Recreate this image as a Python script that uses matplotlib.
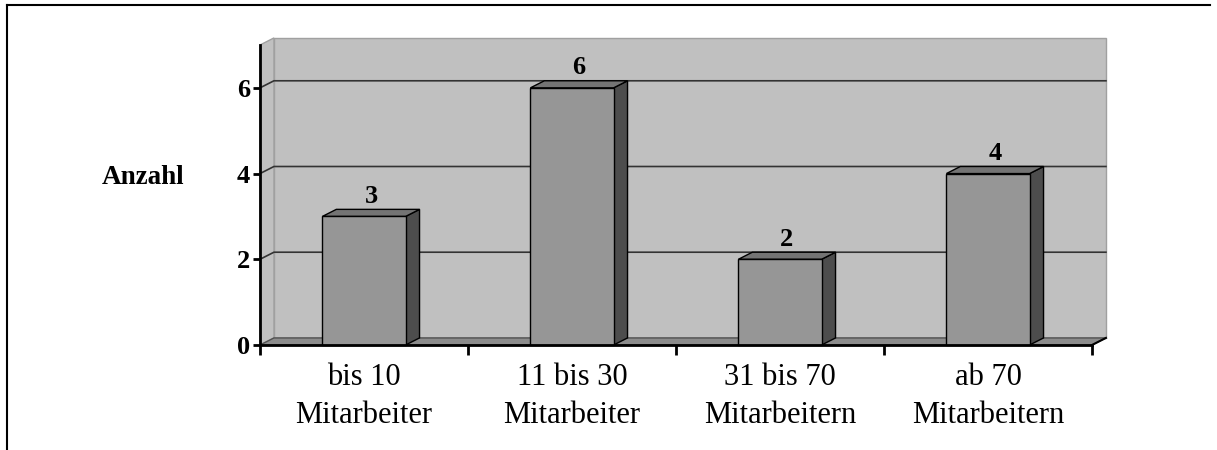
import matplotlib.pyplot as plt
from matplotlib.patches import Polygon, Rectangle

plt.rcParams['font.family'] = ['Liberation Serif', 'DejaVu Serif']

# data
categories = ['bis 10\nMitarbeiter', '11 bis 30\nMitarbeiter',
              '31 bis 70\nMitarbeitern', 'ab 70\nMitarbeitern']
counts = [3, 6, 2, 4]
yticks = [0, 2, 4, 6]

n = len(categories)
ymax = 7
# 3d depth offset in data units
dx = 0.067
dy = 0.165
bw = 0.4

fig = plt.figure(figsize=(12.17, 4.5), dpi=100)
ax = fig.add_axes([260 / 1217, 1 - 345 / 450, 832 / 1217, 300 / 450])
ax.set_xlim(0, n)
ax.set_ylim(0, ymax)

wall = '#c0c0c0'
# back wall and side wall
ax.add_patch(Polygon([(dx, dy), (n + dx, dy), (n + dx, ymax + dy), (dx, ymax + dy)],
                     closed=True, fc=wall, ec='#a0a0a0', lw=1, clip_on=False, zorder=1))
ax.add_patch(Polygon([(0, 0), (dx, dy), (dx, ymax + dy), (0, ymax)],
                     closed=True, fc=wall, ec='#a0a0a0', lw=1, clip_on=False, zorder=1))
# floor
ax.add_patch(Polygon([(0, 0), (n, 0), (n + dx, dy), (dx, dy)],
                     closed=True, fc='#8c8c8c', ec='#505050', lw=1, clip_on=False, zorder=2))
ax.plot([n, n + dx], [0, dy], color='black', lw=1.5, clip_on=False, zorder=2)

# gridlines
for v in yticks[1:]:
    ax.plot([0, dx, n + dx], [v, v + dy, v + dy], color='#333333', lw=1.2,
            clip_on=False, zorder=2)

# bars
for i, v in enumerate(counts):
    c = i + 0.5
    x0, x1 = c - bw / 2, c + bw / 2
    ax.add_patch(Polygon([(x1, 0), (x1 + dx, dy), (x1 + dx, v + dy), (x1, v)],
                         closed=True, fc='#4d4d4d', ec='black', lw=1, clip_on=False, zorder=3))
    ax.add_patch(Polygon([(x0, v), (x1, v), (x1 + dx, v + dy), (x0 + dx, v + dy)],
                         closed=True, fc='#747474', ec='black', lw=1, clip_on=False, zorder=3))
    ax.add_patch(Rectangle((x0, 0), bw, v, fc='#969696', ec='black', lw=1,
                           clip_on=False, zorder=3))
    ax.annotate(str(v), (c + dx / 2, v + dy), xytext=(0, 1), textcoords='offset points',
                ha='center', va='bottom', fontsize=19, fontweight='bold', zorder=4)

# axes
for s in ['top', 'right']:
    ax.spines[s].set_visible(False)
for s in ['left', 'bottom']:
    ax.spines[s].set_linewidth(2)
    ax.spines[s].set_zorder(5)
ax.set_facecolor('none')

ax.set_yticks(yticks)
ax.set_yticklabels([str(t) for t in yticks], fontsize=19, fontweight='bold')
ax.tick_params(axis='y', direction='out', length=5, width=2, pad=2)

ax.set_xticks(range(n + 1))
ax.set_xticklabels([])
ax.set_xticks([i + 0.5 for i in range(n)], minor=True)
ax.set_xticklabels(categories, minor=True, fontsize=22, linespacing=1.4)
ax.tick_params(axis='x', which='major', direction='out', length=7, width=2)
ax.tick_params(axis='x', which='minor', length=0, pad=13)

fig.text(143 / 1217, 1 - 177 / 450, 'Anzahl', ha='center', va='center',
         fontsize=19.5, fontweight='bold')

# frame of the document
fig.add_artist(plt.Line2D([7 / 1217, 7 / 1217], [0, 1 - 5 / 450], color='black', lw=1.5))
fig.add_artist(plt.Line2D([7 / 1217, 1210 / 1217], [1 - 5 / 450, 1 - 5 / 450],
                          color='black', lw=1.5))

fig.savefig('out.png', dpi=100)
